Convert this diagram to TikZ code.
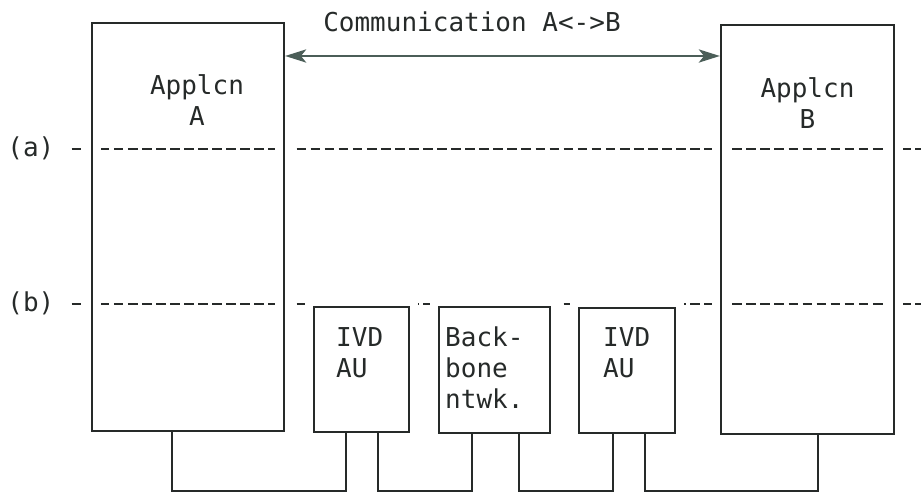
\documentclass[tikz,border=0pt]{standalone}
\usepackage{fontspec}
\setmonofont{DejaVu Sans Mono}
\usetikzlibrary{arrows.meta, positioning}
\definecolor{ink}{HTML}{262A29}
\definecolor{arrowgrey}{HTML}{4B5E58}

\begin{document}
\begin{tikzpicture}[x=0.02cm, y=-0.02cm,
  font=\ttfamily\fontsize{14.8}{17.6}\selectfont, text=ink,
  box/.style={draw=ink, line width=1.3pt, inner sep=0pt,
    preaction={draw=white, line width=0.36cm}},
  appbox/.style={box, minimum height=8.17cm},
  unitbox/.style={box, minimum width=1.9cm, minimum height=2.5cm},
  txt/.style={inner sep=0pt, align=left},
  level/.style={draw=ink, line width=0.9pt, dash pattern=on 5.5pt off 2.5pt},
  wire/.style={draw=ink, line width=1.3pt},
  comm/.style={draw=arrowgrey, line width=1.4pt,
    {Stealth[length=12pt, width=7.5pt, inset=3pt]}-{Stealth[length=12pt, width=7.5pt, inset=3pt]}}]
  \useasboundingbox (0,0) rectangle (921,493);
  % Levels (a) and (b)
  \node[txt, anchor=base west] (la) at (7,157) {(a)};
  \node[txt, anchor=base west] (lb) at (7,312) {(b)};
  \coordinate (edge) at (921,0);
  \draw[level] ([shift={(17,0)}]la.east) -- (la.east -| edge);
  \draw[level] ([shift={(17,0)}]lb.east) -- (lb.east -| edge);
  % Applications
  \node[appbox, minimum width=3.84cm] (appA) at (188,227) {};
  \node[appbox, minimum width=3.46cm] (appB) at (807.5,229.5) {};
  \node[txt, align=center, anchor=north] at ([shift={(9,53)}]appA.north) {Applcn\\A};
  \node[txt, align=center, anchor=north] at ([shift={(0,53)}]appB.north) {Applcn\\B};
  % Network units
  \node[unitbox] (ivdA) at (361.5,369.5) {};
  \node[box, minimum width=2.22cm, minimum height=2.52cm] (bbone) at (494.5,370) {};
  \node[unitbox, minimum width=1.92cm] (ivdB) at (627,370.5) {};
  \node[txt, anchor=north west] at ([shift={(23,21)}]ivdA.north west) {IVD\\AU};
  \node[txt, anchor=north west] at ([shift={(7,20.5)}]bbone.north west) {Back-\\bone\\ntwk.};
  \node[txt, anchor=north west] at ([shift={(25,20.5)}]ivdB.north west) {IVD\\AU};
  % End-to-end communication
  \coordinate (arrowlvl) at (0,56);
  \draw[comm] (appA.east |- arrowlvl) -- (appB.west |- arrowlvl);
  \node[txt, anchor=base] (commlbl) at (472,32) {Communication A<->B};
  % Physical links
  \coordinate (bus) at (0,491);
  \coordinate (aOut)    at ([shift={(-16,0)}]appA.south);
  \coordinate (ivdAin)  at ([shift={(-15.5,0)}]ivdA.south);
  \coordinate (ivdAout) at ([shift={(16.5,0)}]ivdA.south);
  \coordinate (bbIn)    at ([shift={(-22.5,0)}]bbone.south);
  \coordinate (bbOut)   at ([shift={(24.5,0)}]bbone.south);
  \coordinate (ivdBin)  at ([shift={(-14,0)}]ivdB.south);
  \coordinate (ivdBout) at ([shift={(18,0)}]ivdB.south);
  \coordinate (bIn)     at ([shift={(10.5,0)}]appB.south);
  \foreach \s/\t in {aOut/ivdAin, ivdAout/bbIn, bbOut/ivdBin, ivdBout/bIn}
    \draw[wire] (\s) -- (\s |- bus) -- (\t |- bus) -- (\t);
\end{tikzpicture}
\end{document}
